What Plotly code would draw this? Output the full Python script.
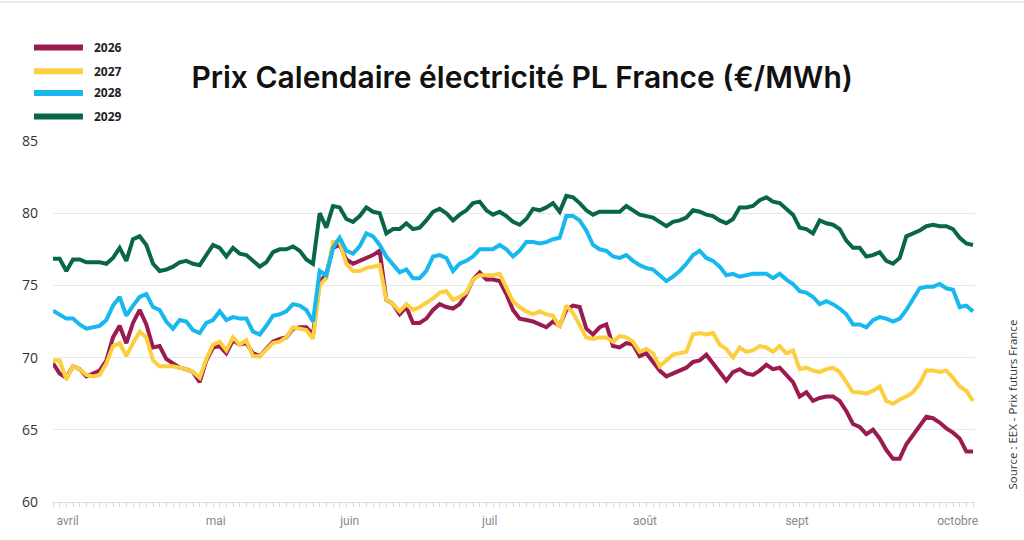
import plotly.graph_objects as go

# trading-session index (one point per session, ~28 mars -> 1er octobre)
jours = list(range(139))

y2026 = [69.6, 68.9, 68.6, 69.4, 69.2, 68.7, 68.9, 69.1, 69.8, 71.4, 72.2, 71.0, 72.4, 73.3, 72.3, 70.7,
         70.8, 69.9, 69.6, 69.3, 69.2, 69.0, 68.3, 69.8, 70.7, 70.8, 70.3, 71.2, 70.9, 71.0, 70.3, 70.1,
         70.6, 71.1, 71.3, 71.4, 72.0, 72.1, 72.1, 71.6, 75.2, 75.8, 77.6, 77.8, 76.8, 76.5, 76.7, 76.9,
         77.1, 77.4, 74.0, 73.7, 73.0, 73.5, 72.4, 72.4, 72.7, 73.3, 73.7, 73.5, 73.4, 73.7, 74.4, 75.4,
         75.9, 75.4, 75.4, 75.3, 74.4, 73.3, 72.7, 72.6, 72.5, 72.3, 72.1, 72.5, 72.2, 73.3, 73.6, 73.5,
         72.0, 71.6, 72.1, 72.3, 70.8, 70.7,
         71.0, 70.9, 70.1, 70.3, 69.7, 69.1, 68.7, 68.9, 69.1, 69.3, 69.7, 69.8, 70.2, 69.6, 69.1, 68.4,
         69.0, 69.2, 68.9, 68.8, 69.1, 69.5, 69.2, 69.3, 68.8, 68.3, 67.3, 67.6, 67.0, 67.2, 67.3, 67.3,
         67.0, 66.3, 65.4, 65.2, 64.7, 65.0, 64.4, 63.6, 63.0, 63.0, 64.0, 64.6, 65.3, 65.9, 65.8, 65.5,
         65.1, 64.8, 64.4, 63.5, 63.5]

y2027 = [69.8, 69.8, 68.5, 69.4, 69.2, 68.8, 68.7, 68.8, 69.6, 70.8, 71.0, 70.1, 71.0, 71.8, 71.4, 69.8,
         69.4, 69.4, 69.4, 69.3, 69.2, 69.0, 68.6, 69.9, 70.9, 71.1, 70.5, 71.4, 70.9, 71.2, 70.1, 70.1,
         70.6, 71.0, 71.1, 71.4, 72.1, 72.0, 71.9, 71.3, 75.0, 75.5, 78.0, 78.0, 76.5, 76.0, 76.0, 76.2,
         76.3, 76.4, 74.0, 73.7, 73.2, 73.7, 73.3, 73.5, 73.8, 74.1, 74.5, 74.6, 74.0, 74.2, 74.5, 75.4,
         75.7, 75.7, 75.7, 75.8, 74.8, 73.9, 73.5, 73.2, 73.0, 73.2, 73.0, 72.9, 72.1, 73.6, 73.1, 72.3,
         71.4, 71.3, 71.4, 71.4, 71.1, 71.5,
         71.4, 71.1, 70.4, 70.6, 70.3, 69.4, 69.8, 70.2, 70.3, 70.4, 71.6, 71.7, 71.6, 71.7, 70.9, 70.6,
         70.0, 70.7, 70.4, 70.5, 70.8, 70.7, 70.4, 70.8, 70.3, 70.5, 69.2, 69.3, 69.1, 69.0, 69.2, 69.3,
         69.0, 68.3, 67.6, 67.6, 67.5, 67.7, 68.0, 67.0, 66.8, 67.1, 67.3, 67.6, 68.2, 69.1, 69.1, 69.0,
         69.1, 68.6, 68.0, 67.7, 67.0]

y2028 = [73.25, 73.0, 72.7, 72.7, 72.3, 72.0, 72.1, 72.2, 72.6, 73.6, 74.2, 72.9, 73.6, 74.2, 74.4, 73.5,
         73.3, 72.5, 72.0, 72.6, 72.5, 71.9, 71.7, 72.4, 72.6, 73.2, 72.6, 72.8, 72.7, 72.7, 71.8, 71.6,
         72.2, 72.9, 73.0, 73.2, 73.7, 73.6, 73.3, 72.5, 76.0, 75.7, 77.6, 78.3, 77.4, 77.2, 77.7, 78.6,
         78.4, 77.8, 77.0, 76.5, 75.9, 76.1, 75.5, 75.5, 76.0, 77.0, 77.1, 76.9, 76.0, 76.5, 76.7, 77.0,
         77.5, 77.5, 77.5, 77.8, 77.5, 77.0, 77.4, 78.0, 78.0, 77.9, 78.0, 78.2, 78.3, 79.8, 79.8, 79.5,
         78.8, 77.8, 77.5, 77.4, 77.0, 76.9,
         77.1, 76.7, 76.4, 76.2, 76.1, 75.7, 75.3, 75.6, 76.0, 76.5, 77.1, 77.4, 76.9, 76.7, 76.3, 75.7,
         75.8, 75.6, 75.7, 75.8, 75.8, 75.8, 75.5, 75.8, 75.4, 75.1, 74.6, 74.5, 74.2, 73.7, 73.9, 73.7,
         73.4, 73.0, 72.3, 72.3, 72.1, 72.6, 72.8, 72.7, 72.5, 72.7, 73.3, 74.1, 74.8, 74.9, 74.9, 75.1,
         74.8, 74.7, 73.5, 73.6, 73.2]

y2029 = [76.85, 76.85, 76.0, 76.8, 76.8, 76.6, 76.6, 76.6, 76.5, 76.9, 77.6, 76.7, 78.2, 78.4, 77.8, 76.5,
         76.0, 76.1, 76.3, 76.6, 76.7, 76.5, 76.4, 77.1, 77.8, 77.6, 77.0, 77.6, 77.2, 77.1, 76.7, 76.3,
         76.6, 77.3, 77.5, 77.5, 77.7, 77.4, 76.8, 76.5, 80.0, 79.0, 80.5, 80.4, 79.6, 79.4, 79.8, 80.4,
         80.1, 80.0, 78.6, 78.9, 78.9, 79.3, 78.9, 79.0, 79.5, 80.1, 80.3, 80.0, 79.5, 79.9, 80.2, 80.7,
         80.8, 80.2, 79.9, 80.1, 79.8, 79.4, 79.2, 79.6, 80.3, 80.2, 80.4, 80.7, 80.1, 81.2, 81.1, 80.7,
         80.2, 79.9, 80.1, 80.1, 80.1, 80.1,
         80.5, 80.2, 79.9, 79.8, 79.7, 79.4, 79.1, 79.4, 79.5, 79.7, 80.2, 80.1, 79.9, 79.8, 79.5, 79.3,
         79.6, 80.4, 80.4, 80.5, 80.9, 81.1, 80.8, 80.7, 80.3, 79.9, 79.0, 78.9, 78.6, 79.5, 79.3, 79.2,
         78.9, 78.1, 77.6, 77.6, 77.0, 77.1, 77.3, 76.7, 76.5, 76.9, 78.4, 78.6, 78.8, 79.1, 79.2, 79.1,
         79.1, 78.9, 78.3, 77.9, 77.8]

series_names = ["2026", "2027", "2028", "2029"]
series_values = [y2026, y2027, y2028, y2029]
series_colors = ["#9b1b50", "#fccf3e", "#17b8ee", "#0a664a"]

mois_pos = [2.2, 24.4, 44.5, 65.5, 88.8, 111.6, 135.7]
mois_labels = ["avril", "mai", "juin", "juil", "août", "sept", "octobre"]
y_ticks = [60, 65, 70, 75, 80, 85]

fig = go.Figure()
for name, vals, col in zip(series_names, series_values, series_colors):
    fig.add_trace(go.Scatter(x=jours, y=vals, mode="lines", name=name,
                             line=dict(color=col, width=4), showlegend=False))

# custom legend (swatch + label), placed in paper coords
leg_y = [1.259, 1.193, 1.133, 1.068]
for name, col, yy in zip(series_names, series_colors, leg_y):
    fig.add_shape(type="line", xref="paper", yref="paper", x0=-0.0206, x1=0.0325, y0=yy, y1=yy,
                  line=dict(color=col, width=6))
    fig.add_annotation(xref="paper", yref="paper", x=0.0423, y=yy, text="<b>%s</b>" % name,
                       showarrow=False, xanchor="left", yanchor="middle",
                       font=dict(family="Open Sans", size=12, color="#222"))

fig.add_annotation(xref="paper", yref="paper", x=1.0412, y=0.27, text="Source : EEX - Prix futurs France",
                   showarrow=False, textangle=-90, xanchor="center", yanchor="middle",
                   font=dict(family="Open Sans", size=11.5, color="#333"))

fig.add_shape(type="line", xref="paper", yref="paper", x0=-0.06, x1=1.06, y0=1.385, y1=1.385,
              line=dict(color="#d0d0d0", width=1))

fig.update_layout(
    width=1024, height=540,
    margin=dict(l=53, r=49, t=141, b=33),
    paper_bgcolor="white", plot_bgcolor="white",
    title=dict(text="Prix Calendaire électricité PL France (€/MWh)", x=0.51, xanchor="center",
               y=0.857, yanchor="middle",
               font=dict(family="Inter", size=30, color="#111", weight=600)),
    xaxis=dict(range=[0, 138.3], tickmode="array", tickvals=mois_pos, ticktext=mois_labels,
               showgrid=False, zeroline=False, showline=True, linecolor="#dcdcdc", linewidth=1,
               ticks="", ticklabelstandoff=8, tickfont=dict(family="Roboto", size=12, color="#888"),
               minor=dict(tickmode="linear", tick0=0, dtick=1, ticks="outside", ticklen=4,
                          tickcolor="#d6d6d6", showgrid=False)),
    yaxis=dict(range=[60, 85], tickvals=y_ticks, showgrid=True, gridcolor="#e8e8e8", gridwidth=1,
               zeroline=False, showline=False, ticks="", ticklabelstandoff=14,
               tickfont=dict(family="Open Sans", size=14, color="#333")),
)

fig.write_html("out.html", config={"displayModeBar": False},
               post_script="document.body.style.margin='0';document.body.style.padding='0';")
